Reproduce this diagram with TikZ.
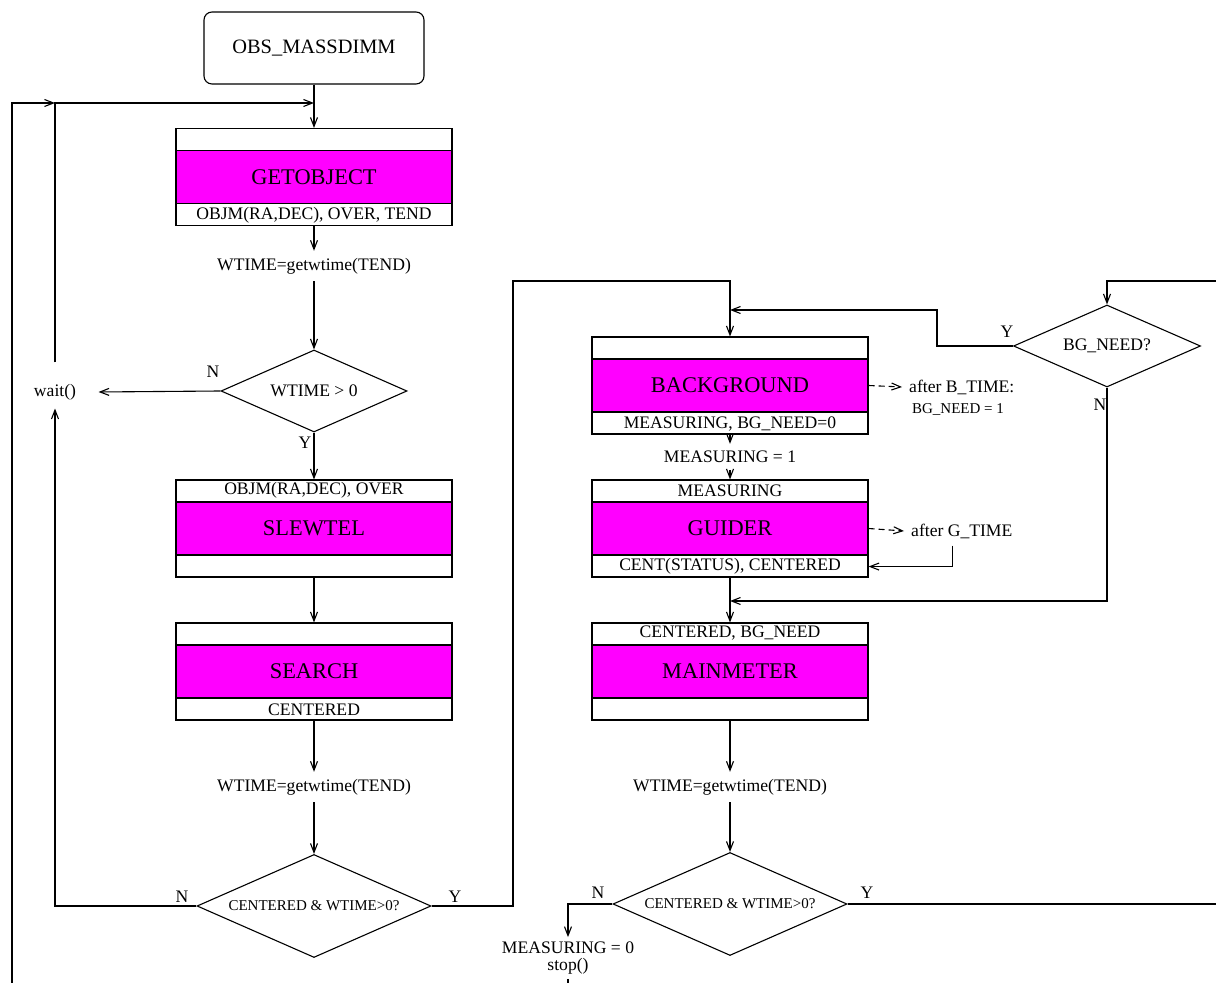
\documentclass[tikz,border=0pt]{standalone}
\usepackage{fontspec}
\setmainfont{Liberation Serif}
\usetikzlibrary{arrows.meta,shapes.geometric}
\definecolor{stmag}{RGB}{255,0,255}
\newcommand{\bigf}{\fontsize{11.2}{13}\selectfont}
\newcommand{\smf}{\fontsize{8.8}{10.5}\selectfont}
\newcommand{\tnf}{\fontsize{7.5}{9}\selectfont}

\begin{document}
\begin{tikzpicture}[x=0.5pt,y=-0.5pt,line width=0.55pt,
  >={Straight Barb[length=4.5pt,width=3.5pt]},
  box/.style={draw,minimum width=138pt,minimum height=48.5pt,inner sep=0pt},
  band/.style={draw,fill=stmag,minimum width=138pt,minimum height=26.5pt,inner sep=0pt,font=\bigf},
  uptxt/.style={font=\smf,yshift=-5.5pt},
  lowtxt/.style={font=\smf,yshift=5.5pt},
  txt/.style={font=\smf},
  dec/.style={draw,diamond,aspect=2.27,inner sep=0pt,font=\smf},
  timer/.style={dashed,dash pattern=on 3pt off 2pt}]
  \useasboundingbox (0,0) rectangle (1216,983);

  % left column
  \node[draw,rounded corners=4pt,minimum width=110pt,minimum height=36pt,
        font=\fontsize{10.2}{12}\selectfont] (obs) at (314,48) {OBS\_MASSDIMM};

  \node[box] (getobj) at (314,177) {};
  \node[band] (getband) at (getobj) {GETOBJECT};
  \node[lowtxt] (getlow) at (getobj.south) {OBJM(RA,DEC), OVER, TEND};

  \node[txt] (wt1) at (314,266) {WTIME=getwtime(TEND)};
  \node[dec,minimum width=93pt,minimum height=41pt] (d1) at (314,391) {WTIME > 0};
  \node[txt,inner xsep=11pt,inner ysep=4pt] (wait) at (55,392) {wait()};

  \node[box] (slew) at (314,528.5) {};
  \node[band] (slewband) at (slew) {SLEWTEL};
  \node[uptxt] (slewup) at (slew.north) {OBJM(RA,DEC), OVER};

  \node[box] (search) at (314,671.5) {};
  \node[band] (searchband) at (search) {SEARCH};
  \node[lowtxt] (searchlow) at (search.south) {CENTERED};

  \node[txt] (wt2) at (314,787) {WTIME=getwtime(TEND)};
  \node[dec,font=\tnf,minimum width=117pt,minimum height=51.5pt] (dl) at (314,906) {CENTERED \& WTIME>0?};

  % right column
  \node[box] (bg) at (730,385.5) {};
  \node[band] (bgband) at (bg) {BACKGROUND};
  \node[lowtxt] (bglow) at (bg.south) {MEASURING, BG\_NEED=0};
  \node[txt,anchor=west] (abt) at (902,387) {after B\_TIME:};
  \node[font=\tnf] (bgn1) at (958,410) {BG\_NEED = 1};

  \node[txt] (m1) at (730,457) {MEASURING = 1};

  \node[box] (guider) at (730,528.5) {};
  \node[band] (gdband) at (guider) {GUIDER};
  \node[uptxt] (gdup) at (guider.north) {MEASURING};
  \node[lowtxt] (gdlow) at (guider.south) {CENT(STATUS), CENTERED};
  \node[txt,anchor=west] (agt) at (904,531) {after G\_TIME};

  \node[box] (mainm) at (730,671.5) {};
  \node[band] (mainband) at (mainm) {MAINMETER};
  \node[uptxt] (mainup) at (mainm.north) {CENTERED, BG\_NEED};

  \node[txt] (wt3) at (730,787) {WTIME=getwtime(TEND)};
  \node[dec,font=\tnf,minimum width=117pt,minimum height=51.5pt] (dr) at (730,904) {CENTERED \& WTIME>0?};
  \node[font=\fontsize{8.8}{8.6}\selectfont,align=center,inner sep=2pt] (m0) at (568,958) {MEASURING = 0\\stop()};

  \node[dec,minimum width=93.5pt,minimum height=41pt] (bgn) at (1107,346) {BG\_NEED?};

  % branch labels
  \node[txt] at (213,372) {N};
  \node[txt] at (305,443) {Y};
  \node[txt] at (182,897) {N};
  \node[txt] at (455,897) {Y};
  \node[txt] at (598,893) {N};
  \node[txt] at (867,893) {Y};
  \node[txt] at (1007,332) {Y};
  \node[txt] at (1100,405) {N};

  \coordinate (jl) at (55,103);
  \coordinate (jm) at (314,103);
  \coordinate (lb) at (12,983);
  \coordinate (cy) at (513,281);
  \coordinate (re1) at (1216,281);
  \coordinate (yk) at (937,310);
  \coordinate (yj) at (730,310);
  \coordinate (nj) at (730,601);
  \coordinate (bb) at (568,983);
  \coordinate (re2) at (1216,904);

  % flow
  \draw[->] (obs) -- (getobj);
  \draw[->] (getobj) -- (wt1);
  \draw[->] (wt1) -- (d1);
  \draw[->] (d1) -- (slew);
  \draw[->] (slew) -- (search);
  \draw[->] (search) -- (wt2);
  \draw[->] (wt2) -- (dl);

  \draw[->] (lb) |- (jl);
  \draw[->,shorten <=6.5pt] (wait.north) -- (jl) -- (jm);
  \draw[->] (d1.west) -- (wait.east);
  \draw[->] (dl.west) -| (wait.south);

  \draw[->] (dl.east) -| (cy) -| (bg.north);
  \draw[->] (bg) -- (m1);
  \draw[->] (m1) -- (guider);
  \draw[->] (guider) -- (mainm);
  \draw[->] (mainm) -- (wt3);
  \draw[->] (wt3) -- (dr);

  \draw[->] (re1) -| (bgn.north);
  \draw[->] (bgn.west) -| (yk) -- (yj);
  \draw[->] (bgn.south) |- (nj);

  \draw[->,timer] (bgband.east) -- (abt.west);
  \draw[->,timer] (gdband.east) -- (agt.west);
  \draw[->] ([xshift=-4.5pt]agt.south) |- (guider.east |- gdlow);

  \draw[->] (dr.west) -| (m0.north);
  \draw (m0.south) -- (bb);
  \draw (dr.east) -- (re2);
\end{tikzpicture}
\end{document}
